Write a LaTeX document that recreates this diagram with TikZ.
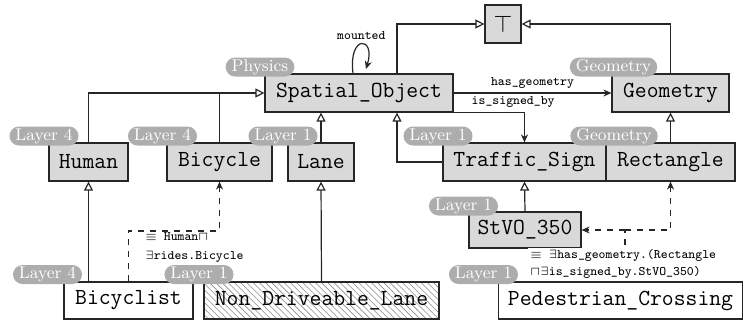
\documentclass[tikz,border=0pt]{standalone}
\usetikzlibrary{arrows.meta,patterns.meta}
\definecolor{boxfill}{gray}{0.85}
\definecolor{tagfill}{gray}{0.68}
\definecolor{edge}{gray}{0.15}
\tikzset{
  cls/.style={draw=edge, line width=0.6pt, inner sep=0pt, minimum height=19pt,
    font=\fontsize{11.5}{13}\selectfont\ttfamily},
  clsg/.style={cls, fill=boxfill},
  clsw/.style={cls, fill=white},
  hatched/.style={cls, preaction={fill=white},
    pattern={Lines[angle=-45,distance=2.2pt,line width=0.3pt]}, pattern color=black!45},
  tag/.style={fill=tagfill, text=white, rounded corners=4.75pt, minimum height=9.5pt,
    inner xsep=3pt, inner ysep=0pt, font=\fontsize{8.5}{9}\selectfont},
  link/.style={draw=edge, line width=0.6pt},
  gen/.style={link, -{Triangle[open,length=4.5pt,width=4.5pt]}},
  rel/.style={link, -{Stealth[length=4pt,width=3.5pt]}},
  defn/.style={link, dash pattern=on 3pt off 3pt},
  lbl/.style={font=\fontsize{6.5}{8}\selectfont\ttfamily, inner sep=1pt},
}
\begin{document}
\begin{tikzpicture}[x=0.5pt,y=-0.5pt]
\useasboundingbox (0,0) rectangle (743,322);

% classes
\node[clsg, minimum width=18pt] (top) at (503,24) {\fontsize{12.5}{12.5}\selectfont$\top$};
\node[clsg, minimum width=94pt] (so) at (359,93) {Spatial\_Object};
\node[clsg, minimum width=58.5pt] (geo) at (670.5,93) {Geometry};
\node[clsg, minimum width=39.5pt] (human) at (88.5,162) {Human};
\node[clsg, minimum width=52.5pt] (bicycle) at (219.5,162) {Bicycle};
\node[clsg, minimum width=33pt] (lane) at (321,162) {Lane};
\node[clsg, minimum width=81.5pt] (ts) at (524.5,162) {Traffic\_Sign};
\node[clsg, minimum width=64.5pt] (rect) at (670.5,162) {Rectangle};
\node[clsg, minimum width=56pt, minimum height=18pt] (stvo) at (525,230) {StVO\_350};
\node[clsw, minimum width=64.5pt, minimum height=18.5pt] (bicyclist) at (128.5,300.5) {Bicyclist};
\node[hatched, minimum width=117.5pt, minimum height=18.5pt] (ndl) at (321.5,300.5) {Non\_Driveable\_Lane};
\node[clsw, minimum width=122pt, minimum height=18.5pt] (pc) at (620.5,300.5) {Pedestrian\_Crossing};

% module tags
\node[tag] (t-so) at (260,67) {Physics};
\node[tag] (t-geo) at (613.5,67) {Geometry};
\node[tag] (t-human) at (44,136) {Layer 4};
\node[tag] (t-bicycle) at (162.5,136) {Layer 4};
\node[tag] (t-lane) at (283,136) {Layer 1};
\node[tag] (t-ts) at (438,136) {Layer 1};
\node[tag] (t-rect) at (614,136) {Geometry};
\node[tag] (t-stvo) at (463.5,206) {Layer 1};
\node[tag] (t-bicyclist) at (47.5,274.5) {Layer 4};
\node[tag] (t-ndl) at (199,274.5) {Layer 1};
\node[tag] (t-pc) at (483.5,274.5) {Layer 1};

% subsumption
\draw[gen] (human.north) |- (so.west);
\draw[link] (bicycle.north) -- (bicycle.north |- so.west);
\draw[gen] (lane.north) -- (lane.north |- so.south);
\draw[gen] (ts.west) -| ([xshift=19pt]so.south);
\draw[gen] ([xshift=19pt]so.north) |- (top.west);
\draw[gen] (geo.north) |- (top.east);
\draw[gen] (rect.north) -- (geo.south);
\draw[gen] (stvo.north) -- (ts.south);
\draw[gen] (bicyclist.north -| human.south) -- (human.south);
\draw[gen] (ndl.north) -- (lane.south);

% roles
\draw[rel] (so.east) -- node[lbl, above=1pt] (l-hg) {has\_geometry} (geo.west);
\draw[rel] (so.south east) -| node[lbl, pos=0.42, above=1.5pt] (l-isb) {is\_signed\_by} (ts.north);
\draw[rel] ([xshift=-3pt]so.north) .. controls (348,34) and (376,36) .. node[lbl, above=1pt] (l-m) {mounted} (366,69);

% definitions
\coordinate (bj) at (128.5,231);
\draw[rel, defn] (bicyclist.north) -- (bj) -| (bicycle.south);
\node[lbl, align=left, anchor=north west, font=\fontsize{6.5}{9.5}\selectfont\ttfamily] (bdef) at (143,230)
  {$\equiv$ Human$\sqcap$\\$\exists$rides.Bicycle};

\coordinate (pj) at (625,230);
\draw[defn] (pc.north -| pj) -- (pj);
\draw[rel, defn] (pj) -- (stvo.east);
\draw[rel, defn] (pj) -| (rect.south);
\node[lbl, fill=white, align=left, anchor=south west, font=\fontsize{6.5}{8.5}\selectfont\ttfamily] (pdef) at (528,281)
  {$\equiv$ $\exists$has\_geometry.(Rectangle\\$\sqcap\exists$is\_signed\_by.StVO\_350)};
\end{tikzpicture}
\end{document}
